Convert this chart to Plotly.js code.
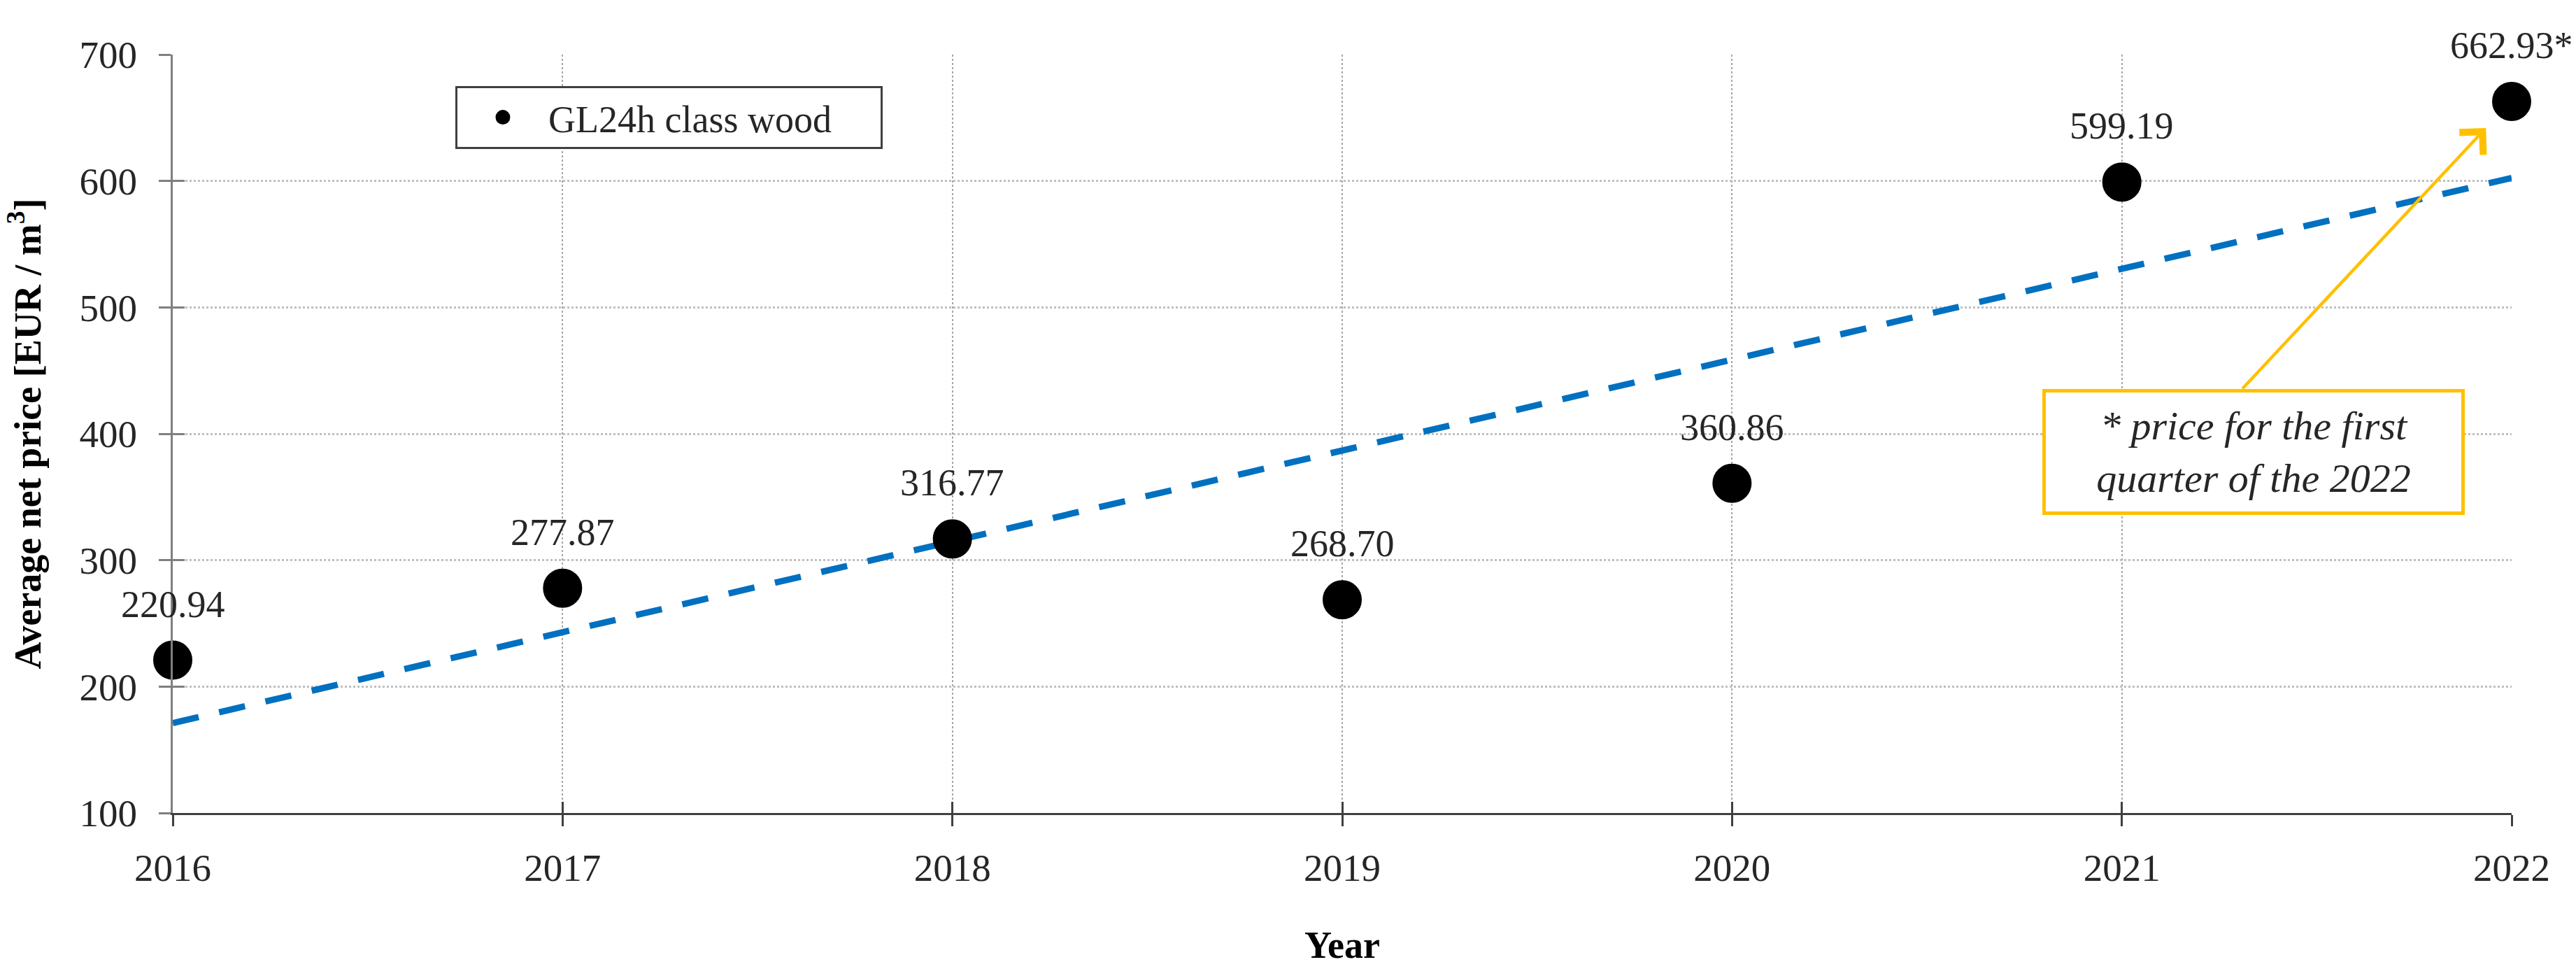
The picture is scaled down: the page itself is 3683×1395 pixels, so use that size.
<!DOCTYPE html>
<html>
<head>
<meta charset="utf-8">
<script src="https://cdn.plot.ly/plotly-3.0.1.min.js"></script>
<style>html,body{margin:0;padding:0;background:#fff;}#chart{width:3683px;height:1395px;}</style>
</head>
<body>
<div id="chart"></div>
<script>
const years = [2016, 2017, 2018, 2019, 2020, 2021, 2022];
const prices = [220.94, 277.87, 316.77, 268.70, 360.86, 599.19, 662.93];
const priceLabels = ["220.94", "277.87", "316.77", "268.70", "360.86", "599.19", "662.93*"];
const seriesName = "GL24h class wood";
const noteText = "* price for the first<br>quarter of the 2022";
const yTicks = [100, 200, 300, 400, 500, 600, 700];

// linear trendline (least squares) derived from the data
const n = years.length;
const mx = years.reduce((a, b) => a + b, 0) / n;
const my = prices.reduce((a, b) => a + b, 0) / n;
let sxy = 0, sxx = 0;
for (let i = 0; i < n; i++) { sxy += (years[i] - mx) * (prices[i] - my); sxx += (years[i] - mx) ** 2; }
const slope = sxy / sxx;
const intercept = my - slope * mx;
const trendX = [years[0], years[n - 1]];
const trendY = trendX.map(x => intercept + slope * x);

const FONT = '"Liberation Serif", "Times New Roman", serif';
const TXT = '#262626';

const traces = [
  {
    x: trendX, y: trendY, mode: 'lines', showlegend: false, hoverinfo: 'skip',
    line: { color: '#0070C0', width: 9, dash: '38px,30px' }, cliponaxis: false
  },
  {
    x: years, y: prices, mode: 'markers', name: seriesName, cliponaxis: false,
    marker: { color: '#000000', size: 51, line: { color: '#000000', width: 5 } }
  },
  {
    x: [years[0]], y: [yTicks[0]], xaxis: 'x2', yaxis: 'y2', mode: 'markers',
    marker: { opacity: 0, size: 1 }, showlegend: false, hoverinfo: 'skip'
  }
];

const annotations = years.map((yr, i) => ({
  x: yr, y: prices[i], xref: 'x', yref: 'y', text: priceLabels[i], showarrow: false,
  yshift: 80, font: { family: FONT, size: 54, color: TXT }
}));

annotations.push({
  x: 2021.934, y: 641.9, xref: 'x', yref: 'y',
  ax: 2021.307, ay: 434.9, axref: 'x', ayref: 'y',
  text: '', showarrow: true, arrowhead: 4, arrowsize: 2.0, arrowwidth: 4.5, arrowcolor: '#FFC000'
});
annotations.push({
  x: 2021.338, y: 385.6, xref: 'x', yref: 'y', text: noteText, showarrow: false,
  font: { family: FONT, size: 58, color: TXT, style: 'italic' },
  bgcolor: '#ffffff', bordercolor: '#FFC000', borderwidth: 5, borderpad: 0,
  width: 594, height: 170, align: 'center', valign: 'middle'
});

const layout = {
  width: 3683, height: 1395,
  paper_bgcolor: '#ffffff', plot_bgcolor: '#ffffff',
  margin: { l: 247, r: 92, t: 78, b: 233, pad: 0 },
  font: { family: FONT, color: TXT, size: 54 },
  showlegend: true,
  legend: {
    x: 0.1208, y: 0.9585, xanchor: 'left', yanchor: 'top', xref: 'paper', yref: 'paper',
    orientation: 'h', entrywidth: 470, entrywidthmode: 'pixels',
    bgcolor: '#ffffff', bordercolor: '#404040', borderwidth: 3,
    font: { family: FONT, size: 54, color: TXT }, itemwidth: 120,
    tracegroupgap: 0
  },
  xaxis: {
    range: [2016, 2022], tickmode: 'array', tickvals: years, ticktext: years.map(String),
    showgrid: true, gridcolor: '#a6a6a6', gridwidth: 2, griddash: '3px,3px',
    zeroline: false, showline: true, linecolor: '#404040', linewidth: 3,
    ticks: 'outside', ticklen: 16, tickwidth: 3, tickcolor: '#404040',
    ticklabelstandoff: 12,
    tickfont: { family: FONT, size: 55, color: TXT },
    title: { text: 'Year', standoff: 62, font: { family: FONT, size: 54, color: '#000', weight: 'bold' } }
  },
  yaxis: {
    range: [100, 700], tickmode: 'array', tickvals: yTicks, ticktext: yTicks.map(String),
    showgrid: true, gridcolor: '#bfbfbf', gridwidth: 3, griddash: '3px,3px',
    zeroline: false, showline: true, linecolor: '#7f7f7f', linewidth: 3,
    ticks: 'outside', ticklen: 17, tickwidth: 3, tickcolor: '#7f7f7f',
    ticklabelstandoff: 20,
    tickfont: { family: FONT, size: 55, color: TXT },
    title: { text: 'Average net price [EUR / m<sup>3</sup>]', standoff: 38, font: { family: FONT, size: 54, color: '#000', weight: 'bold' } }
  },
  xaxis2: {
    overlaying: 'x', matches: 'x', anchor: 'y2', side: 'bottom', showgrid: false, zeroline: false,
    showline: false, ticks: 'inside', ticklen: 16, tickwidth: 3, tickcolor: '#404040',
    showticklabels: false, tickmode: 'array', tickvals: years
  },
  yaxis2: {
    overlaying: 'y', matches: 'y', anchor: 'x2', side: 'left', showgrid: false, zeroline: false,
    showline: false, ticks: 'inside', ticklen: 17, tickwidth: 3, tickcolor: '#7f7f7f',
    showticklabels: false, tickmode: 'array', tickvals: yTicks
  },
  annotations: annotations
};

Plotly.newPlot('chart', traces, layout, { staticPlot: true, displayModeBar: false });
</script>
</body>
</html>
